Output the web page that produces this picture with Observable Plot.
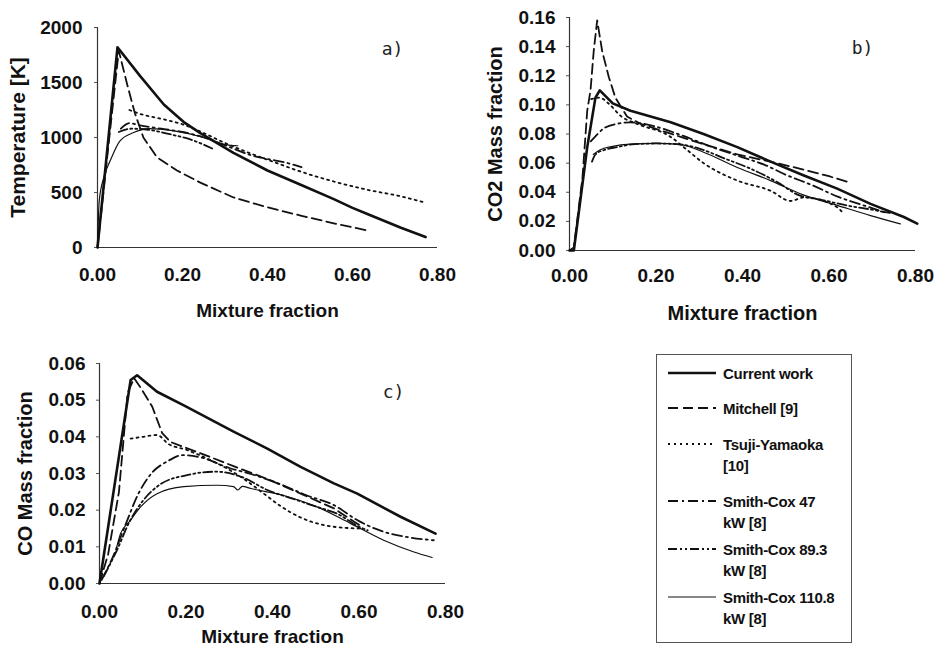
<!DOCTYPE html>
<html><head><meta charset="utf-8">
<script src="https://cdn.jsdelivr.net/npm/d3@7"></script>
<script src="https://cdn.jsdelivr.net/npm/@observablehq/plot@0.6"></script>
<style>
body{margin:0;background:#fff;}
#root{position:relative;width:936px;height:649px;overflow:hidden;background:#fff;font-family:"Liberation Sans",Arial,sans-serif;}
.panel{position:absolute;}
#legend{position:absolute;left:656px;top:354px;width:196px;height:289px;border:1px solid #555;box-sizing:border-box;}
.lg{position:absolute;left:0;width:196px;}
.lg svg{position:absolute;left:10px;}
.lg div{position:absolute;left:66px;font-size:15px;font-weight:bold;line-height:21px;color:#111;letter-spacing:-0.3px;}
</style></head>
<body><div id="root"></div>
<script>
const seriesNames = ["Current work","Mitchell [9]","Tsuji-Yamaoka [10]","Smith-Cox 47 kW [8]","Smith-Cox 89.3 kW [8]","Smith-Cox 110.8 kW [8]"];
const legendLines = [["Current work"],["Mitchell [9]"],["Tsuji-Yamaoka","[10]"],["Smith-Cox 47","kW [8]"],["Smith-Cox 89.3","kW [8]"],["Smith-Cox 110.8","kW [8]"]];
const xTicks = [0,0.2,0.4,0.6,0.8];

// Panel a: Temperature [K]
const tempTicks = [0,500,1000,1500,2000];
const tempCurrent = [[0,0],[0.047,1820],[0.10,1560],[0.156,1300],[0.203,1140],[0.242,1040],[0.32,860],[0.40,700],[0.478,570],[0.556,440],[0.60,360],[0.635,305],[0.714,180],[0.772,95]];
const tempMitchell = [[0,0],[0.025,900],[0.05,1790],[0.07,1480],[0.088,1220],[0.108,1000],[0.14,820],[0.187,700],[0.242,590],[0.32,455],[0.40,365],[0.478,290],[0.556,220],[0.635,155]];
const tempTsuji = [[0.075,1250],[0.10,1215],[0.15,1170],[0.20,1120],[0.25,1040],[0.30,950],[0.36,855],[0.42,770],[0.478,690],[0.556,600],[0.635,525],[0.714,465],[0.765,415]];
const tempSC47 = [[0.055,1080],[0.075,1130],[0.10,1110],[0.15,1080],[0.20,1050],[0.25,1000],[0.30,930],[0.36,840],[0.40,805],[0.44,775],[0.48,730]];
const tempSC89 = [[0.05,1050],[0.08,1080],[0.12,1070],[0.17,1030],[0.22,980],[0.27,900]];
const tempSC110 = [[0,0],[0.004,420],[0.015,640],[0.03,790],[0.053,970],[0.085,1045],[0.12,1080],[0.18,1060],[0.25,1000],[0.30,935],[0.33,925]];

// Panel b: CO2 mass fraction
const co2Ticks = [0,0.02,0.04,0.06,0.08,0.10,0.12,0.14,0.16];
const co2Current = [[0,0],[0.01,0],[0.041,0.071],[0.06,0.105],[0.07,0.11],[0.1,0.101],[0.141,0.096],[0.234,0.088],[0.31,0.080],[0.388,0.071],[0.465,0.061],[0.542,0.0515],[0.619,0.0425],[0.696,0.032],[0.773,0.023],[0.804,0.0185]];
const co2Mitchell = [[0,0],[0.01,0.002],[0.03,0.05],[0.041,0.096],[0.0486,0.11],[0.056,0.137],[0.064,0.158],[0.0755,0.137],[0.091,0.119],[0.106,0.105],[0.133,0.092],[0.164,0.087],[0.257,0.078],[0.31,0.073],[0.388,0.066],[0.465,0.061],[0.542,0.0555],[0.60,0.051],[0.65,0.0465]];
const co2Tsuji = [[0.05,0.104],[0.07,0.105],[0.09,0.101],[0.12,0.092],[0.156,0.087],[0.234,0.078],[0.264,0.071],[0.31,0.06],[0.388,0.048],[0.465,0.041],[0.511,0.034],[0.542,0.0365],[0.619,0.0297],[0.634,0.025]];
const co2SC47 = [[0.049,0.075],[0.065,0.08],[0.08,0.084],[0.11,0.087],[0.14,0.088],[0.2,0.085],[0.26,0.079],[0.33,0.071],[0.40,0.064],[0.45,0.059],[0.50,0.052],[0.56,0.045],[0.62,0.037],[0.68,0.031],[0.73,0.026]];
const co2SC89 = [[0.052,0.061],[0.06,0.066],[0.08,0.069],[0.11,0.071],[0.15,0.073],[0.2,0.0735],[0.25,0.073],[0.30,0.070],[0.36,0.063],[0.42,0.056],[0.48,0.047],[0.53,0.038],[0.58,0.035],[0.64,0.031],[0.70,0.028],[0.745,0.0255]];
const co2SC110 = [[0.055,0.066],[0.07,0.069],[0.1,0.0715],[0.14,0.073],[0.2,0.0735],[0.26,0.0725],[0.31,0.0675],[0.388,0.057],[0.465,0.048],[0.542,0.038],[0.619,0.031],[0.696,0.024],[0.765,0.0183]];

// Panel c: CO mass fraction
const coTicks = [0,0.01,0.02,0.03,0.04,0.05,0.06];
const coCurrent = [[0,0],[0.072,0.0555],[0.087,0.0568],[0.133,0.0523],[0.195,0.0486],[0.31,0.0414],[0.388,0.0368],[0.465,0.0318],[0.542,0.0273],[0.596,0.0245],[0.696,0.0182],[0.777,0.0136]];
const coMitchell = [[0,0],[0.02,0.008],[0.045,0.025],[0.065,0.052],[0.08,0.056],[0.094,0.0536],[0.122,0.0482],[0.145,0.041],[0.164,0.0386],[0.234,0.0355],[0.31,0.032],[0.388,0.0285],[0.465,0.0245],[0.542,0.0205],[0.6,0.016]];
const coTsuji = [[0.072,0.0395],[0.10,0.040],[0.133,0.0405],[0.16,0.038],[0.2,0.0365],[0.25,0.034],[0.3,0.031],[0.34,0.028],[0.38,0.0245],[0.42,0.021],[0.465,0.018],[0.54,0.0155],[0.6,0.015]];
const coSC47 = [[0.005,0.001],[0.03,0.007],[0.06,0.016],[0.09,0.0245],[0.12,0.03],[0.16,0.0335],[0.19,0.035],[0.23,0.0345],[0.3,0.0315],[0.36,0.0295],[0.42,0.027],[0.48,0.024],[0.54,0.0215],[0.6,0.017],[0.66,0.014],[0.72,0.0125],[0.773,0.0118]];
const coSC89 = [[0.01,0.002],[0.04,0.009],[0.07,0.017],[0.1,0.0225],[0.14,0.027],[0.2,0.0295],[0.27,0.0305],[0.33,0.029],[0.388,0.0255],[0.45,0.023],[0.5,0.021],[0.55,0.019],[0.6,0.0155],[0.62,0.0145]];
const coSC110 = [[0.04,0.010],[0.0486,0.0136],[0.07,0.017],[0.095,0.0209],[0.133,0.0245],[0.195,0.0264],[0.272,0.0268],[0.31,0.0264],[0.32,0.0255],[0.33,0.0265],[0.35,0.0259],[0.426,0.024],[0.503,0.0209],[0.58,0.0164],[0.657,0.0118],[0.727,0.0086],[0.769,0.0071]];

const styles = [
  {strokeWidth:2.6, dash:null, curve:"linear"},
  {strokeWidth:1.8, dash:"10,5", curve:"linear"},
  {strokeWidth:1.8, dash:"2,4", curve:"monotone-x"},
  {strokeWidth:1.8, dash:"10,4,2,4", curve:"monotone-x"},
  {strokeWidth:1.8, dash:"9,3,2,3,2,3", curve:"monotone-x"},
  {strokeWidth:1.2, dash:null, curve:"monotone-x"}
];
const FONT = '"Liberation Sans", Arial, sans-serif';
const INK = "#111";

function table(arrays){
  const rows = [];
  arrays.forEach((arr, i) => arr.forEach(([x, y]) => rows.push({series: seriesNames[i], x, y})));
  return rows;
}

function makePanel(c){
  const rows = table(c.series);
  const marks = [
    Plot.ruleX([0], {stroke:"#333", strokeWidth:1.2}),
    Plot.ruleY([0], {stroke:"#333", strokeWidth:1.2}),
    Plot.axisX({ticks:xTicks, tickFormat:d3.format(".2f"), tickSize:0, tickPadding:c.xPad, label:null, fontSize:c.tickFont, fontWeight:"bold", fill:INK}),
    Plot.axisY({ticks:c.yTicks, tickFormat:c.yFormat, tickSize:3, tickPadding:c.yPad, label:null, fontSize:c.tickFont, fontWeight:"bold", fill:INK, stroke:"#555"}),
    Plot.text([c.xLabel], {text:d=>d, frameAnchor:"bottom", dy:c.xLabelDy, fontSize:c.xLabelFont, fontWeight:"bold", fill:INK, textAnchor:"middle", lineAnchor:"middle"}),
    Plot.text([c.yLabel], {text:d=>d, frameAnchor:"left", dx:c.yLabelDx, rotate:-90, fontSize:c.yLabelFont, fontWeight:"bold", fill:INK, textAnchor:"middle", lineAnchor:"middle"}),
    Plot.text([c.tag], {text:d=>d, frameAnchor:"top-right", dx:c.tagDx, dy:c.tagDy, fontSize:18, fontFamily:'"DejaVu Sans Mono", monospace', fill:"#222", textAnchor:"middle", lineAnchor:"middle"})
  ];
  seriesNames.forEach((name, i) => {
    const s = styles[i];
    marks.push(Plot.line(rows.filter(r => r.series === name), {x:"x", y:"y", stroke:INK, strokeWidth:s.strokeWidth, strokeDasharray:s.dash, curve:s.curve, strokeLinejoin:"round"}));
  });
  const el = Plot.plot({
    width:c.width, height:c.height,
    marginLeft:c.ml, marginRight:c.mr, marginTop:c.mt, marginBottom:c.mb,
    style:{fontFamily:FONT, background:"transparent", overflow:"visible"},
    x:{domain:[0,0.8]},
    y:{domain:[c.yTicks[0], c.yTicks[c.yTicks.length-1]]},
    marks
  });
  el.classList.add("panel");
  el.style.left = c.left + "px";
  el.style.top = c.top + "px";
  return el;
}

const root = document.getElementById("root");
root.appendChild(makePanel({
  left:0, top:0, width:470, height:320, ml:97, mr:33, mt:27, mb:73,
  series:[tempCurrent,tempMitchell,tempTsuji,tempSC47,tempSC89,tempSC110],
  yTicks:tempTicks, yFormat:d=>String(d), tickFont:19, xPad:20, yPad:12,
  xLabel:"Mixture fraction", xLabelDy:63, xLabelFont:19,
  yLabel:"Temperature [K]", yLabelDx:-79, yLabelFont:21,
  tag:"a)", tagDx:-45, tagDy:22
}));
root.appendChild(makePanel({
  left:470, top:0, width:466, height:320, ml:99, mr:21, mt:17, mb:70,
  series:[co2Current,co2Mitchell,co2Tsuji,co2SC47,co2SC89,co2SC110],
  yTicks:co2Ticks, yFormat:d3.format(".2f"), tickFont:19, xPad:18, yPad:11,
  xLabel:"Mixture fraction", xLabelDy:63, xLabelFont:20,
  yLabel:"CO2 Mass fraction", yLabelDx:-74, yLabelFont:20,
  tag:"b)", tagDx:-53, tagDy:31
}));
root.appendChild(makePanel({
  left:0, top:320, width:470, height:329, ml:99, mr:25, mt:43, mb:66,
  series:[coCurrent,coMitchell,coTsuji,coSC47,coSC89,coSC110],
  yTicks:coTicks, yFormat:d3.format(".2f"), tickFont:19, xPad:21, yPad:11,
  xLabel:"Mixture fraction", xLabelDy:53, xLabelFont:19,
  yLabel:"CO Mass fraction", yLabelDx:-74, yLabelFont:20,
  tag:"c)", tagDx:-52, tagDy:29
}));

// Legend
const legend = document.createElement("div");
legend.id = "legend";
const entryTops = [12, 47, 83, 140, 188, 236];
legendLines.forEach((lines, i) => {
  const s = styles[i];
  const e = document.createElement("div");
  e.className = "lg";
  e.style.top = entryTops[i] + "px";
  const svg = document.createElementNS("http://www.w3.org/2000/svg", "svg");
  svg.setAttribute("width", 50); svg.setAttribute("height", 10);
  svg.style.top = "1px";
  const ln = document.createElementNS("http://www.w3.org/2000/svg", "line");
  ln.setAttribute("x1", 1); ln.setAttribute("x2", 49); ln.setAttribute("y1", 5); ln.setAttribute("y2", 5);
  ln.setAttribute("stroke", INK); ln.setAttribute("stroke-width", s.strokeWidth);
  if (s.dash) ln.setAttribute("stroke-dasharray", s.dash);
  svg.appendChild(ln);
  e.appendChild(svg);
  const t = document.createElement("div");
  t.style.top = "-4px";
  t.innerHTML = lines.join("<br>");
  e.appendChild(t);
  legend.appendChild(e);
});
root.appendChild(legend);
</script>
</body></html>
